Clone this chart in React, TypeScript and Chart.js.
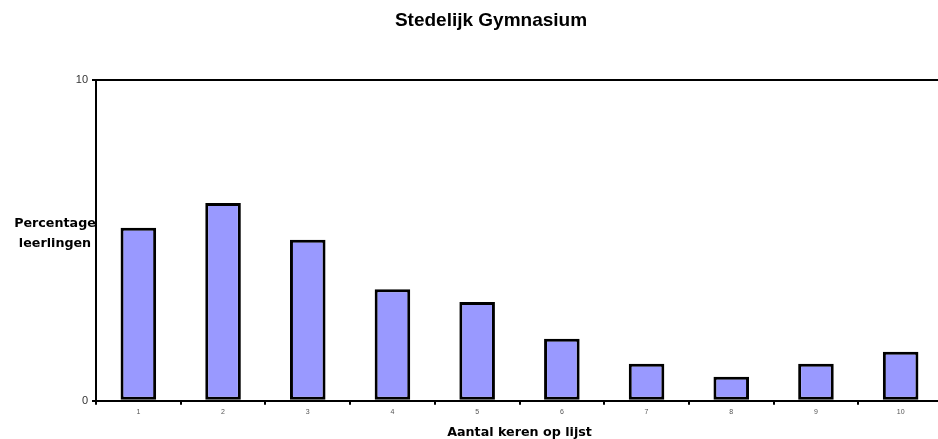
import React, { useEffect, useRef } from "react";
import { Chart, registerables } from "chart.js";

Chart.register(...registerables);

const chartTitle = "Stedelijk Gymnasium";
const xAxisTitle = "Aantal keren op lijst";
const yAxisTitleLines = ["Percentage", "leerlingen"];
const categories = ["1", "2", "3", "4", "5", "6", "7", "8", "9", "10"];
const percentages = [5.4, 6.17, 5.02, 3.48, 3.08, 1.93, 1.15, 0.75, 1.15, 1.53];
const yMin = 0;
const yMax = 10;
const yStep = 10;

const CANVAS_W = 982;
const CANVAS_H = 439;

const textPlugin = {
  id: "customTexts",
  afterDraw(chart: any) {
    const { ctx, chartArea } = chart;
    ctx.save();
    ctx.fillStyle = "#000";
    // Main title
    ctx.font = "bold 19px 'Liberation Sans', Arial, sans-serif";
    ctx.textAlign = "center";
    ctx.textBaseline = "alphabetic";
    ctx.fillText(chartTitle, CANVAS_W / 2, 26);
    // X axis title
    ctx.font = "bold 12.7px 'DejaVu Sans', Verdana, sans-serif";
    ctx.fillText(xAxisTitle, (chartArea.left + chartArea.right) / 2, 435.5);
    // Y axis title (horizontal)
    yAxisTitleLines.forEach((line, i) => {
      ctx.fillText(line, 55, 227 + i * 19.7);
    });
    ctx.restore();
  },
};

export default function App() {
  const canvasRef = useRef<HTMLCanvasElement | null>(null);

  useEffect(() => {
    if (!canvasRef.current) return;
    const chart = new Chart(canvasRef.current, {
      type: "bar",
      data: {
        labels: categories,
        datasets: [
          {
            data: percentages,
            backgroundColor: "#9999FF",
            borderColor: "#000000",
            borderWidth: 3,
            borderSkipped: false,
            barPercentage: 0.42,
            categoryPercentage: 1,
          },
        ],
      },
      options: {
        animation: false,
        responsive: false,
        devicePixelRatio: 1,
        layout: { padding: { top: 80.3, left: 0, right: 39, bottom: 0 } },
        plugins: {
          legend: { display: false },
          title: { display: false },
          tooltip: { enabled: false },
        },
        scales: {
          x: {
            offset: true,
            grid: {
              offset: true,
              drawOnChartArea: false,
              drawTicks: true,
              tickLength: 4,
              color: "#000",
              lineWidth: 2,
            },
            border: { display: true, color: "#000", width: 2 },
            ticks: {
              color: "#555",
              font: { size: 7, family: "'Liberation Sans', Arial, sans-serif" },
              padding: 3,
              maxRotation: 0,
            },
            afterFit: (scale: any) => {
              scale.height = CANVAS_H - 400.7;
            },
          },
          y: {
            min: yMin,
            max: yMax,
            grid: {
              drawOnChartArea: true,
              drawTicks: true,
              tickLength: 4,
              color: "#000",
              lineWidth: 2,
            },
            border: { display: true, color: "#000", width: 2 },
            ticks: {
              stepSize: yStep,
              color: "#333",
              font: { size: 11, family: "'Liberation Sans', Arial, sans-serif" },
              padding: 4,
            },
            afterFit: (scale: any) => {
              scale.width = 96;
            },
          },
        },
      },
      plugins: [textPlugin],
    });
    return () => chart.destroy();
  }, []);

  return (
    <div
      style={{
        position: "fixed",
        left: 0,
        top: 0,
        width: 938,
        height: 439,
        overflow: "hidden",
        background: "#fff",
      }}
    >
      <canvas
        ref={canvasRef}
        width={CANVAS_W}
        height={CANVAS_H}
        style={{ display: "block", width: CANVAS_W, height: CANVAS_H }}
      />
    </div>
  );
}
